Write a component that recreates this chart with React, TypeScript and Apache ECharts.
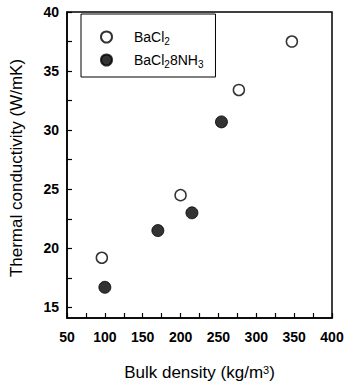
import React, { useEffect, useRef } from "react";
import * as echarts from "echarts";

const xTickLabels = [50, 100, 150, 200, 250, 300, 350, 400];
const xTicks = [50, 75, 100, 125, 150, 175, 200, 225, 250, 275, 300, 325, 350, 375, 400];
const yTickLabels = [15, 20, 25, 30, 35, 40];
const yTicks = [15, 17.5, 20, 22.5, 25, 27.5, 30, 32.5, 35, 37.5, 40];

const bacl2Density = [96, 200, 277, 347];
const bacl2Conductivity = [19.2, 24.5, 33.4, 37.5];
const ammDensity = [100, 170, 215, 254];
const ammConductivity = [16.7, 21.5, 23.0, 30.7];

const FONT = "Liberation Sans, Arial, sans-serif";

export default function App() {
  const ref = useRef<HTMLDivElement>(null);
  useEffect(() => {
    if (!ref.current) return;
    const chart = echarts.init(ref.current, null, { renderer: "svg" });
    const richBase = {
      f: { fontSize: 14, lineHeight: 18, color: "#000", fontFamily: FONT, padding: [0, 0, 0, 17] },
      n: { fontSize: 14, lineHeight: 18, color: "#000", fontFamily: FONT },
      sub: { fontSize: 10, lineHeight: 10, verticalAlign: "bottom", color: "#000", fontFamily: FONT },
    };
    chart.setOption({
      animation: false,
      backgroundColor: "#fff",
      textStyle: { fontFamily: FONT },
      grid: {
        left: 67,
        right: 15,
        top: 12,
        bottom: 68,
        show: true,
        borderColor: "#000",
        borderWidth: 1.5,
        containLabel: false,
      },
      legend: {
        orient: "vertical",
        left: 81,
        top: 14,
        padding: [16, 12, 8, 19],
        itemGap: 7,
        itemWidth: 11,
        itemHeight: 11,
        borderColor: "#000",
        borderWidth: 1,
        data: ["BaCl2", "BaCl28NH3"],
        formatter: (name: string) =>
          name === "BaCl2" ? "{f|BaCl}{sub|2}" : "{f|BaCl}{sub|2}{n|8NH}{sub|3}",
        textStyle: { rich: richBase, fontFamily: FONT },
      },
      xAxis: {
        type: "value",
        min: 50,
        max: 400,
        name: "Bulk density (kg/m{sup|3})",
        nameLocation: "middle",
        nameGap: 46,
        nameTextStyle: {
          fontSize: 17,
          color: "#000",
          fontFamily: FONT,
          rich: {
            sup: { fontSize: 11, lineHeight: 10, verticalAlign: "top", color: "#000", fontFamily: FONT },
          },
        },
        splitLine: { show: false },
        axisLine: { show: true, lineStyle: { color: "#000", width: 1.5 } },
        axisTick: { show: true, inside: true, length: 5, customValues: xTicks, lineStyle: { color: "#000", width: 1.2 } },
        axisLabel: { customValues: xTickLabels, fontSize: 14, fontWeight: "bold", color: "#000", margin: 12, fontFamily: FONT },
      },
      yAxis: {
        type: "value",
        min: 14.1,
        max: 40,
        name: "Thermal conductivity (W/mK)",
        nameLocation: "middle",
        nameGap: 42,
        nameTextStyle: { fontSize: 17, color: "#000", fontFamily: FONT, padding: [0, 0, 0, -6] },
        splitLine: { show: false },
        axisLine: { show: true, lineStyle: { color: "#000", width: 1.5 } },
        axisTick: { show: true, inside: true, length: 5, customValues: yTicks, lineStyle: { color: "#000", width: 1.2 } },
        axisLabel: { customValues: yTickLabels, fontSize: 14, fontWeight: "bold", color: "#000", margin: 8, fontFamily: FONT },
      },
      series: [
        {
          name: "BaCl2",
          type: "scatter",
          symbol: "circle",
          symbolSize: 11,
          itemStyle: { color: "#fff", borderColor: "#000", borderWidth: 1.5 },
          data: bacl2Density.map((d, i) => [d, bacl2Conductivity[i]]),
        },
        {
          name: "BaCl28NH3",
          type: "scatter",
          symbol: "circle",
          symbolSize: 12,
          itemStyle: { color: "#000", borderColor: "#000", borderWidth: 1 },
          data: ammDensity.map((d, i) => [d, ammConductivity[i]]),
        },
      ],
    });
    return () => chart.dispose();
  }, []);
  return <div ref={ref} style={{ position: "absolute", left: 0, top: 0, width: 347, height: 386 }} />;
}
